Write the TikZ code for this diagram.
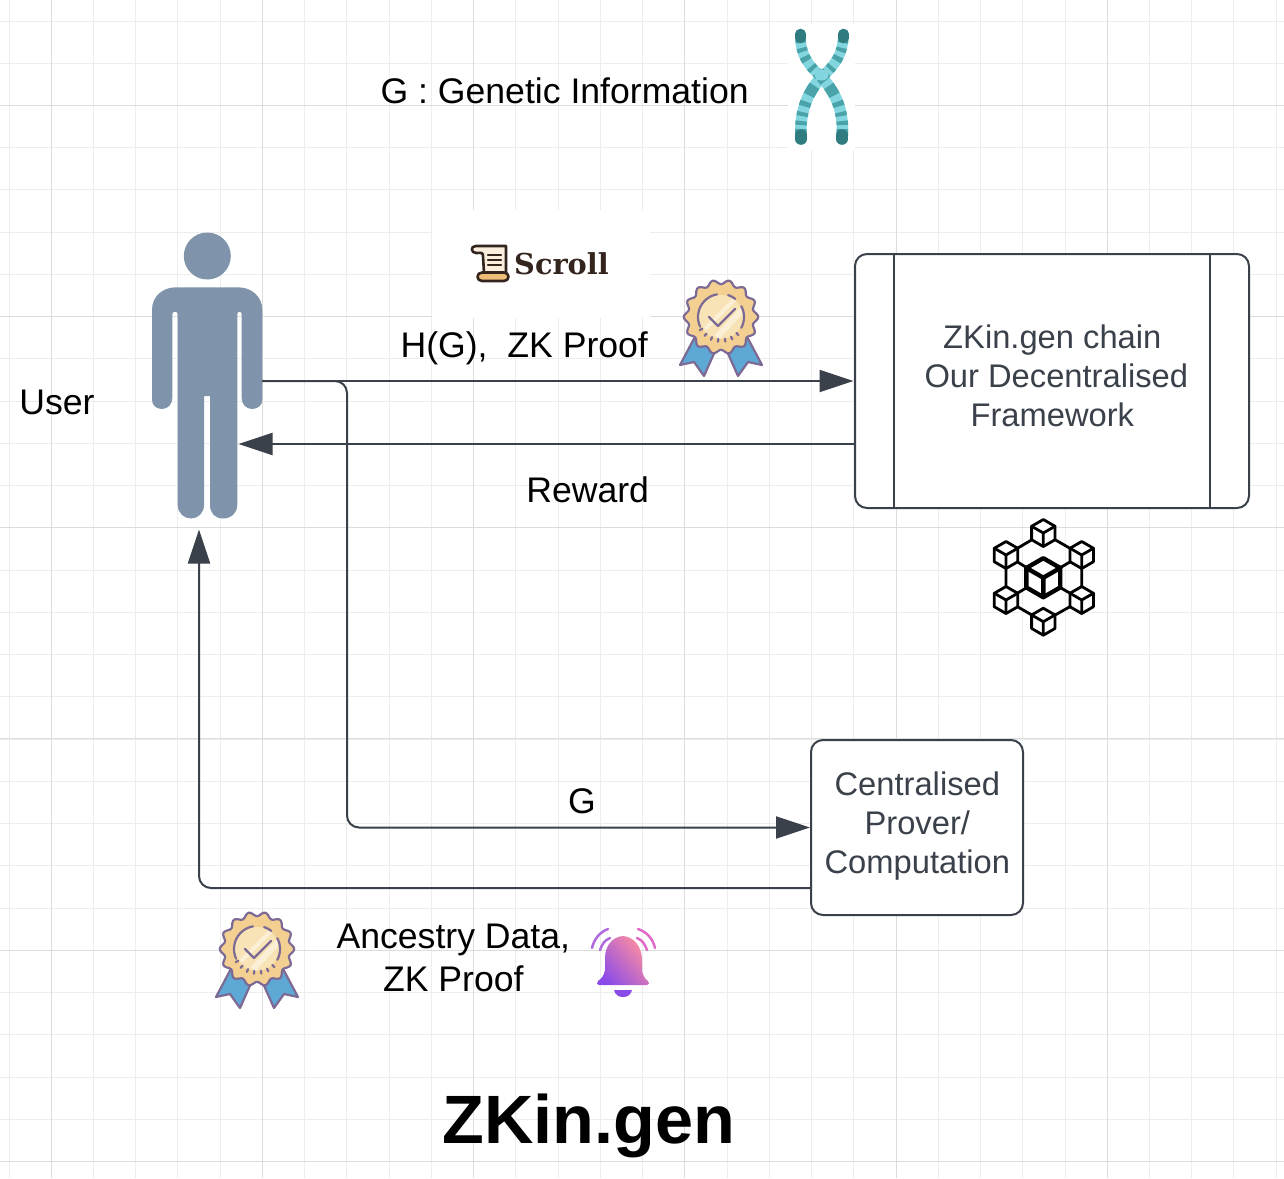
\documentclass[tikz,border=0pt]{standalone}
\usepackage{fontspec}
\setmainfont{Liberation Sans}
\newfontfamily\scrollfont{DejaVu Serif}
\usetikzlibrary{arrows.meta,calc}
\definecolor{linec}{HTML}{3A414A}
\definecolor{gridminor}{HTML}{EDEDED}
\definecolor{gridmajor}{HTML}{DCDCDC}
\definecolor{personc}{HTML}{7F94AA}
\definecolor{chroml}{HTML}{83D6DF}
\definecolor{chromd}{HTML}{4AA3A9}
\definecolor{chromt}{HTML}{2F7B80}
\definecolor{medalp}{HTML}{7D6A94}
\definecolor{medalg}{HTML}{F3D092}
\definecolor{medalc}{HTML}{F8E3B6}
\definecolor{medalb}{HTML}{5EA8D6}
\definecolor{scrollk}{HTML}{33241E}
\definecolor{scrollg}{HTML}{EEBD77}
\definecolor{scrollp}{HTML}{FBEEDD}
\definecolor{bella}{HTML}{8B4BE8}
\definecolor{bellb}{HTML}{DB36B4}
\definecolor{bellc}{HTML}{FF8FA0}
\definecolor{wavea}{HTML}{B06AE0}
\definecolor{waveb}{HTML}{E06AC8}
\tikzset{
  flow/.style={draw=linec,line width=2pt,rounded corners=12pt,-{Triangle[length=34pt,width=22pt]}},
  boxn/.style={draw=linec,line width=2pt,fill=white,rounded corners=12pt,inner sep=0pt,outer sep=0pt},
  lab/.style={font=\fontsize{35.6}{43}\selectfont,text=black,inner sep=0pt,outer sep=0pt,align=center},
  boxlab/.style={font=\fontsize{32.7}{39.3}\selectfont,text=linec,inner sep=0pt,outer sep=0pt,align=center},
  cubeline/.style={draw=black,line join=round,line cap=round},
  medalline/.style={medalp,line width=2.2pt,line cap=round},
}
\newcommand\medalicon[2]{%
\begin{scope}[shift={(#1,#2)}]
  \foreach \s in {1,-1}{
    \filldraw[fill=medalb,draw=medalp,line width=2.2pt,line join=round]
      (\s*24,16) -- (\s*41,48) -- (\s*27,45) -- (\s*17,59) -- (\s*5,32) -- cycle;
  }
  \filldraw[fill=medalg,draw=medalp,line width=2.2pt,line join=round]
    plot[domain=0:360,samples=141,smooth] ({(35+2.2*cos(14*\x))*cos(\x)},{(35+2.2*cos(14*\x))*sin(\x)}) -- cycle;
  \fill[medalc] (0,0) circle[radius=22pt];
  \begin{scope}
    \clip (0,0) circle[radius=22pt];
    \draw[white,opacity=.45,line width=4pt] (-16,12) -- (14,-18);
    \draw[white,opacity=.45,line width=6pt] (-4,20) -- (22,-8);
  \end{scope}
  \draw[medalline] plot[domain=100:205,samples=24,smooth] ({23*cos(\x)},{-23*sin(\x)});
  \draw[medalline] plot[domain=52:72,samples=6,smooth] ({23*cos(\x)},{-23*sin(\x)});
  \draw[medalline] plot[domain=-28:28,samples=12,smooth] ({23*cos(\x)},{-23*sin(\x)});
  \foreach \a in {212,229,246,263,280,297,314}{
    \draw[medalline] ({22*cos(\a)},{-22*sin(\a)}) -- ({25*cos(\a)},{-25*sin(\a)});
  }
  \draw[medalp,line width=2.4pt,line cap=round,line join=round] (-12,0) -- (-3,9) -- (14,-8);
\end{scope}}
\newcommand\cubeicon[4]{% x y r lw
\begin{scope}[shift={(#1,#2)}]
  \draw[cubeline,line width=#4,fill=white]
    (90:#3) -- (30:#3) -- (-30:#3) -- (-90:#3) -- (-150:#3) -- (150:#3) -- cycle;
  \draw[cubeline,line width=#4] (0,0) -- (30:#3) (0,0) -- (150:#3) (0,0) -- (-90:#3);
\end{scope}}
\newcommand\chromoarm[6]{% tip, c1, c2, width, pattern, tip direction
  \draw[chroml,line width=#4,line cap=round] #1 .. controls #2 and #3 .. (821.5,77);
  \draw[chromd,line width=#4,dash pattern=#5] #1 .. controls #2 and #3 .. (821.5,77);
  \draw[chromt,line width=#4,line cap=round] #1 -- +#6;
}
\begin{document}
\begin{tikzpicture}[x=1pt,y=-1pt]
\useasboundingbox (0,0) rectangle (1284,1178);
\fill[white] (0,0) rectangle (1284,1178);
% grid
\foreach \i in {0,...,30}{
  \draw[gridminor,line width=1pt] ({9+42.24*\i},0) -- ({9+42.24*\i},1178);
  \draw[gridminor,line width=1pt] (0,{21+42.24*\i}) -- (1284,{21+42.24*\i});
}
\foreach \i in {0,...,5}{
  \draw[gridmajor,line width=1pt] ({51.2+211.2*\i},0) -- ({51.2+211.2*\i},1178);
  \draw[gridmajor,line width=1pt] (0,{105.2+211.2*\i}) -- (1284,{105.2+211.2*\i});
}
% white patches behind images
\fill[white] (432,210) rectangle (650,318);
\fill[white] (788,24) rectangle (855,150);

% chromosome
\chromoarm{(800.5,34)}{(800,55)}{(808,65)}{10.5pt}{on 9pt off 5pt on 4pt off 5pt on 5pt off 7pt on 4pt off 4pt on 10pt off 30pt}{(0,4)}
\chromoarm{(843.5,34)}{(843,55)}{(835,65)}{10.5pt}{on 9pt off 5pt on 4pt off 5pt on 5pt off 7pt on 4pt off 4pt on 10pt off 30pt}{(0,4)}
\chromoarm{(801,139)}{(799,108)}{(810,90)}{11.5pt}{on 10pt off 4pt on 4pt off 5pt on 4pt off 6pt on 5pt off 7pt on 11pt off 6pt on 10pt off 30pt}{(0,-4)}
\chromoarm{(842,139)}{(845,108)}{(833,90)}{11.5pt}{on 10pt off 4pt on 4pt off 5pt on 4pt off 6pt on 5pt off 7pt on 11pt off 6pt on 10pt off 30pt}{(0,-4)}
\fill[chroml] (821.5,75) ellipse[x radius=7pt,y radius=5.5pt];

% user figure
\node[minimum width=110pt,minimum height=296pt,inner sep=0pt,outer sep=0pt] (user) at (207.2,381) {};
\fill[personc] (207.3,256) circle[radius=23.5pt];
\fill[personc,even odd rule]
  (152,310) .. controls (152,296) and (163,287.3) .. (176,287.3)
  -- (238,287.3) .. controls (251,287.3) and (262.3,296) .. (262.3,310)
  -- (262.3,400) .. controls (262.3,405) and (258,409) .. (252,409)
  .. controls (246,409) and (241.7,404) .. (241.7,398)
  -- (241.7,314) .. controls (241.7,311) and (237.3,311) .. (237.3,314)
  -- (237.3,505) .. controls (237.3,513) and (231,518.5) .. (223,518.5)
  .. controls (215,518.5) and (210,513) .. (210,505)
  -- (210,396) -- (204,396)
  -- (204,505) .. controls (204,513) and (198,518.5) .. (191,518.5)
  .. controls (184,518.5) and (177.7,513) .. (177.7,505)
  -- (177.7,314) .. controls (177.7,311) and (172.3,311) .. (172.3,314)
  -- (172.3,398) .. controls (172.3,404) and (168,409) .. (162,409)
  .. controls (156,409) and (152,405) .. (152,400) -- cycle;

% boxes
\node[boxn,minimum width=394pt,minimum height=254pt] (zk) at (1052,381) {};
\draw[linec,line width=2pt] ([xshift=39pt]zk.north west) -- ([xshift=39pt]zk.south west);
\draw[linec,line width=2pt] ([xshift=-39pt]zk.north east) -- ([xshift=-39pt]zk.south east);
\node[boxlab] (zklabel) at (1052.3,376) {ZKin.gen chain\\\hspace*{8pt}Our Decentralised\\Framework};
\node[boxn,minimum width=212pt,minimum height=175pt] (prover) at (917,827.5) {};
\node[boxlab] (proverlabel) at (917.3,826) {Centralised\\Prover/\\Computation};

% connectors
\coordinate (rewardtip) at (238.5,444);
\coordinate (rewardstart) at (zk.west |- rewardtip);
\coordinate (turn) at (347,381);
\coordinate (back) at (prover.west |- 0,888);
\draw[flow,shorten >=1.5pt] (user.east) -- (zk.west);
\draw[flow] (rewardstart) -- (rewardtip);
\draw[flow,shorten >=1pt] (user.east) -- (turn) -- (turn |- prover.west) -- (prover.west);
\draw[flow] (back) -- (back -| 199,0) -- (199,529.5);

% labels
\node[lab,anchor=base west] (title1) at (380.6,103) {G : Genetic Information};
\node[lab,anchor=base west] (userl) at (19.3,414) {User};
\node[lab,anchor=base west] (hg) at (400.6,357) {H(G),\ \ ZK Proof};
\node[lab,anchor=base west] (reward) at (526.3,502) {Reward};
\node[lab,anchor=base] (gl) at (582,813) {G};
\node[lab,anchor=base] (anc) at (453.3,991) {Ancestry Data,\\ZK Proof};
\node[font=\fontsize{68.4}{80}\selectfont\bfseries,inner sep=0pt,anchor=base] (title) at (588.5,1143) {ZKin.gen};

% scroll logo
\begin{scope}[line width=2.6pt,draw=scrollk,line join=round,line cap=round]
  \filldraw[fill=scrollp,draw=scrollk] (476,246) -- (506,246) -- (506,273) -- (484,273) -- (483,256) .. controls (483,252) and (481,253) .. (476,253) .. controls (471,253) and (470,246) .. (476,246) -- cycle;
  \filldraw[fill=scrollg,draw=scrollk] (484,272.5) -- (504,272.5) .. controls (510,272.5) and (510,281) .. (504,281) -- (482,281) .. controls (476,281) and (476,272.5) .. (482,272.5) -- cycle;
  \draw[draw=scrollk] (488,255) -- (501,255) (488,260) -- (501,260) (488,265) -- (501,265);
\end{scope}
\node[font=\scrollfont\bfseries\fontsize{28.8}{34}\selectfont,text=scrollk,inner sep=0pt,anchor=base west] (scrollname) at (514,274.5) {Scroll};

% medals
\medalicon{721}{317}
\medalicon{257}{949}

% bell
\shade[left color=bella,middle color=bellb,right color=bellc,shading angle=130]
  (623,936) .. controls (634,937) and (641,946) .. (642,958) -- (642,970)
  .. controls (643,976) and (645,979) .. (648,981)
  .. controls (650,983) and (649,985) .. (647,985) -- (599,985)
  .. controls (597,985) and (596,983) .. (598,981)
  .. controls (601,979) and (604,976) .. (605,970) -- (605,958)
  .. controls (605,946) and (612,937) .. (623,936) -- cycle;
\fill[bella] (614,990) -- (632,990) .. controls (631,995) and (627,997) .. (623,997) .. controls (619,997) and (615,995) .. (614,990) -- cycle;
\draw[wavea,line width=2.5pt,line cap=round] (592,948) .. controls (594,939) and (600,932) .. (608,929);
\draw[wavea,line width=2.5pt,line cap=round] (600,950) .. controls (602,944) and (605,940) .. (610,938);
\draw[waveb,line width=2.5pt,line cap=round] (655,948) .. controls (653,939) and (647,932) .. (638,929);
\draw[waveb,line width=2.5pt,line cap=round] (647,950) .. controls (645,944) and (642,940) .. (637,938);

% blockchain network
\draw[black,line width=2.8pt]
  (1043.3,533) -- (1081.7,555) -- (1081.7,600) -- (1043.3,621.7) -- (1006,600) -- (1006,555) -- cycle
  (1043.3,577.7) -- (1081.7,555) (1043.3,577.7) -- (1081.7,600)
  (1043.3,577.7) -- (1006,600) (1043.3,577.7) -- (1006,555);
\cubeicon{1043.3}{533}{13.5pt}{2.8pt}
\cubeicon{1006}{555}{13.5pt}{2.8pt}
\cubeicon{1081.7}{555}{13.5pt}{2.8pt}
\cubeicon{1006}{600}{13.5pt}{2.8pt}
\cubeicon{1081.7}{600}{13.5pt}{2.8pt}
\cubeicon{1043.3}{621.7}{13.5pt}{2.8pt}
\cubeicon{1043.3}{577.7}{19.5pt}{4.4pt}
\end{tikzpicture}
\end{document}
